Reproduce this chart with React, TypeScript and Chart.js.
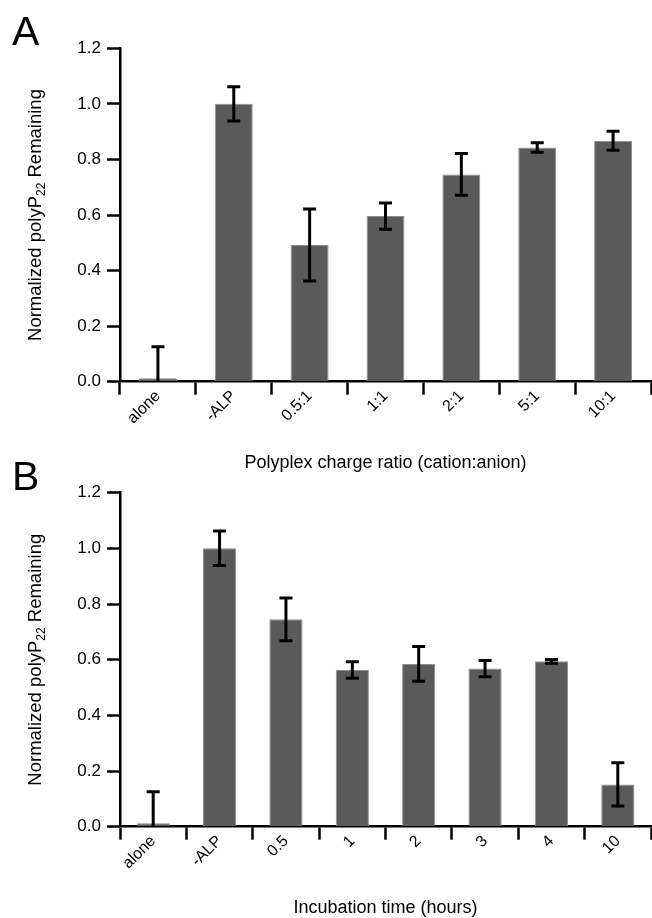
import React, { useEffect, useRef } from "react";
import { Chart, registerables } from "chart.js";

Chart.register(...registerables);

// ---------- data ----------
const categoriesA = ["alone", "-ALP", "0.5:1", "1:1", "2:1", "5:1", "10:1"];
const valuesA = [0.012, 1.0, 0.492, 0.596, 0.746, 0.843, 0.867];
const errorsA = [0.114, 0.062, 0.13, 0.047, 0.075, 0.017, 0.034];

const categoriesB = ["alone", "-ALP", "0.5", "1", "2", "3", "4", "10"];
const valuesB = [0.012, 1.0, 0.745, 0.563, 0.585, 0.568, 0.594, 0.152];
const errorsB = [0.114, 0.062, 0.077, 0.03, 0.062, 0.029, 0.007, 0.078];

const yMin = 0;
const yMax = 1.2;
const yStep = 0.2;

const yTitleMain = "Normalized polyP";
const yTitleSub = "22";
const yTitleEnd = " Remaining";
const xTitleA = "Polyplex charge ratio (cation:anion)";
const xTitleB = "Incubation time (hours)";
const panelA = "A";
const panelB = "B";

const FONT = "'Liberation Sans', Arial, Helvetica, sans-serif";

type PanelCfg = {
  labels: string[];
  values: number[];
  errors: number[];
  letter: string;
  xTitle: string;
  canvasHeight: number;
  areaTop: number;
  areaBottom: number;
  titleBaseline: number;
};

function buildChart(canvas: HTMLCanvasElement, cfg: PanelCfg) {
  const errorBars = {
    id: "errorBars",
    afterDatasetsDraw(chart: any) {
      const ctx = chart.ctx;
      const ys = chart.scales.y;
      const area = chart.chartArea;
      const meta = chart.getDatasetMeta(0);
      ctx.save();
      ctx.strokeStyle = "#000";
      ctx.lineWidth = 3;
      ctx.lineCap = "butt";
      meta.data.forEach((bar: any, i: number) => {
        const v = cfg.values[i];
        const e = cfg.errors[i];
        const x = bar.x;
        const yHi = ys.getPixelForValue(v + e);
        const yLoRaw = ys.getPixelForValue(v - e);
        const yLo = Math.min(yLoRaw, area.bottom);
        const cap = 6.5;
        ctx.beginPath();
        ctx.moveTo(x, yHi);
        ctx.lineTo(x, yLo);
        ctx.moveTo(x - cap, yHi);
        ctx.lineTo(x + cap, yHi);
        if (yLoRaw <= area.bottom) {
          ctx.moveTo(x - cap, yLo);
          ctx.lineTo(x + cap, yLo);
        }
        ctx.stroke();
      });
      ctx.restore();
    },
  };

  const texts = {
    id: "panelTexts",
    afterDraw(chart: any) {
      const ctx = chart.ctx;
      const area = chart.chartArea;
      ctx.save();
      ctx.fillStyle = "#000";
      // panel letter
      ctx.font = `41px ${FONT}`;
      ctx.textAlign = "left";
      ctx.textBaseline = "alphabetic";
      ctx.fillText(cfg.letter, 12, cfg.areaTop - 3);
      // x title
      ctx.font = `18px ${FONT}`;
      ctx.textAlign = "center";
      ctx.fillText(cfg.xTitle, (area.left + area.right) / 2, cfg.titleBaseline);
      // y title with subscript
      const mainFont = `18.5px ${FONT}`;
      const subFont = `12px ${FONT}`;
      ctx.font = mainFont;
      const w1 = ctx.measureText(yTitleMain).width;
      const w3 = ctx.measureText(yTitleEnd).width;
      ctx.font = subFont;
      const w2 = ctx.measureText(yTitleSub).width;
      const total = w1 + w2 + w3;
      const cy = (area.top + area.bottom) / 2;
      ctx.translate(41, cy);
      ctx.rotate(-Math.PI / 2);
      ctx.textAlign = "left";
      let x0 = -total / 2;
      ctx.font = mainFont;
      ctx.fillText(yTitleMain, x0, 0);
      x0 += w1;
      ctx.font = subFont;
      ctx.fillText(yTitleSub, x0, 4);
      x0 += w2;
      ctx.font = mainFont;
      ctx.fillText(yTitleEnd, x0, 0);
      ctx.restore();
    },
  };

  return new Chart(canvas, {
    type: "bar",
    data: {
      labels: cfg.labels,
      datasets: [
        {
          data: cfg.values,
          backgroundColor: "#5a5a5a",
          borderColor: "#8f8f8f",
          borderWidth: 1,
          barPercentage: 0.5,
          categoryPercentage: 1,
        },
      ],
    },
    options: {
      responsive: false,
      animation: false,
      events: [],
      layout: {
        padding: { top: cfg.areaTop, right: 1, bottom: 0, left: 0 },
      },
      plugins: {
        legend: { display: false },
        tooltip: { enabled: false },
        title: { display: false },
      },
      scales: {
        x: {
          type: "category",
          grid: {
            display: true,
            offset: true,
            drawOnChartArea: false,
            drawTicks: true,
            tickLength: 13,
            tickWidth: 2.5,
            tickColor: "#000",
            color: "#000",
          },
          border: { display: true, color: "#000", width: 2.5 },
          ticks: {
            color: "#000",
            font: { size: 16, family: FONT },
            minRotation: 45,
            maxRotation: 45,
            padding: -8,
            autoSkip: false,
          },
          afterFit: (axis: any) => {
            axis.height = cfg.canvasHeight - cfg.areaBottom;
          },
        },
        y: {
          min: yMin,
          max: yMax,
          grid: {
            display: true,
            drawOnChartArea: false,
            drawTicks: true,
            tickLength: 13,
            tickWidth: 2.5,
            tickColor: "#000",
            color: "#000",
          },
          border: { display: true, color: "#000", width: 2.5 },
          ticks: {
            stepSize: yStep,
            color: "#000",
            font: { size: 17, family: FONT },
            padding: 6,
            callback: (v: any) => Number(v).toFixed(1),
          },
          afterFit: (axis: any) => {
            axis.width = 120;
          },
        },
      },
    },
    plugins: [errorBars, texts],
  } as any);
}

function Panel({ cfg, top }: { cfg: PanelCfg; top: number }) {
  const ref = useRef<HTMLCanvasElement | null>(null);
  useEffect(() => {
    if (!ref.current) return;
    const chart = buildChart(ref.current, cfg);
    return () => chart.destroy();
  }, [cfg]);
  return (
    <canvas
      ref={ref}
      width={652}
      height={cfg.canvasHeight}
      style={{
        position: "absolute",
        left: 0,
        top,
        width: 652,
        height: cfg.canvasHeight,
        display: "block",
      }}
    />
  );
}

const cfgA: PanelCfg = {
  labels: categoriesA,
  values: valuesA,
  errors: errorsA,
  letter: panelA,
  xTitle: xTitleA,
  canvasHeight: 480,
  areaTop: 48.3,
  areaBottom: 381.7,
  titleBaseline: 468,
};

const cfgB: PanelCfg = {
  labels: categoriesB,
  values: valuesB,
  errors: errorsB,
  letter: panelB,
  xTitle: xTitleB,
  canvasHeight: 463,
  areaTop: 37.7,
  areaBottom: 371.7,
  titleBaseline: 458,
};

export default function App() {
  return (
    <div
      style={{
        position: "absolute",
        left: 0,
        top: 0,
        width: 652,
        height: 918,
        background: "#fff",
        overflow: "hidden",
      }}
    >
      <Panel cfg={cfgA} top={0} />
      <Panel cfg={cfgB} top={455} />
    </div>
  );
}
